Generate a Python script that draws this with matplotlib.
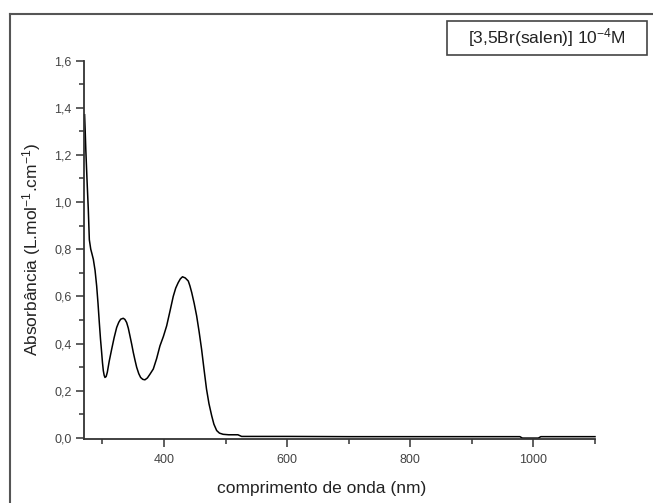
import numpy as np
import matplotlib
matplotlib.use("Agg")
import matplotlib.pyplot as plt
from matplotlib.lines import Line2D
from matplotlib.patches import Rectangle
from matplotlib.ticker import MultipleLocator

plt.rcParams['font.family'] = ['Liberation Sans', 'DejaVu Sans']
plt.rcParams['mathtext.fontset'] = 'custom'
plt.rcParams['mathtext.rm'] = 'Liberation Sans'
plt.rcParams['mathtext.it'] = 'Liberation Sans'

# UV-Vis spectrum of [3,5Br(salen)] 1e-4 M
wavelength = [271, 272, 273, 275, 277, 278.7, 281, 283, 285.2, 288, 290.6, 292.8,
              294.9, 296.8, 298.7, 300, 301.4, 302.8, 304.1, 306, 307.9, 311,
              315, 319, 323.1, 326.5, 329.6, 333.8, 336.5, 339.3, 342, 344.7,
              347.5, 350.1, 352.8, 355.6, 359, 362, 365.5, 369, 373, 377.2,
              382.6, 388, 393.4, 399, 404.3, 409.5, 415, 419, 423, 426.5, 430,
              434.5, 439.4, 442, 445, 449, 453, 457, 461, 465, 469, 473, 477.4,
              481, 485.5, 490, 496, 505, 520, 526, 540, 600, 700, 800, 900,
              978, 982, 995, 1008, 1012, 1050, 1100]
absorbance = [1.37, 1.30, 1.22, 1.09, 0.97, 0.84, 0.80, 0.78, 0.757, 0.71, 0.644, 0.57,
              0.489, 0.42, 0.362, 0.32, 0.285, 0.265, 0.256, 0.26, 0.278, 0.325,
              0.376, 0.425, 0.468, 0.49, 0.503, 0.507, 0.502, 0.489, 0.465, 0.432,
              0.397, 0.362, 0.33, 0.299, 0.272, 0.256, 0.248, 0.246, 0.254, 0.27,
              0.292, 0.336, 0.39, 0.43, 0.475, 0.535, 0.60, 0.635, 0.658, 0.674, 0.683,
              0.678, 0.665, 0.645, 0.616, 0.57, 0.517, 0.45, 0.376, 0.29, 0.207, 0.145, 0.094,
              0.058, 0.031, 0.020, 0.015, 0.013, 0.013, 0.006, 0.006, 0.006, 0.005, 0.005, 0.005,
              0.005, -0.001, -0.001, -0.001, 0.005, 0.005, 0.005]

yticks = [0.0, 0.2, 0.4, 0.6, 0.8, 1.0, 1.2, 1.4, 1.6]
ytick_labels = ["0,0", "0,2", "0,4", "0,6", "0,8", "1,0", "1,2", "1,4", "1,6"]
xticks = [400, 600, 800, 1000]
xtick_labels = ["400", "600", "800", "1000"]

fig = plt.figure(figsize=(6.53, 5.03), dpi=100)
ax = fig.add_axes([0.1286, 0.1272, 0.7826, 0.7525])

ax.plot(wavelength, absorbance, color='black', lw=1.1, clip_on=False)

ax.set_xlim(270, 1100)
ax.set_ylim(-0.005, 1.6)

ax.set_xticks(xticks)
ax.set_xticklabels(xtick_labels)
ax.set_yticks(yticks)
ax.set_yticklabels(ytick_labels)
ax.xaxis.set_minor_locator(MultipleLocator(100))
ax.yaxis.set_minor_locator(MultipleLocator(0.1))

for side in ('top', 'right'):
    ax.spines[side].set_visible(False)
for side in ('left', 'bottom'):
    ax.spines[side].set_color('#333333')
    ax.spines[side].set_linewidth(1.3)

ax.tick_params(which='major', direction='out', length=6, width=1.1,
               color='#333333', labelsize=9, labelcolor='#444444')
ax.tick_params(axis='x', which='major', pad=5)
ax.tick_params(axis='y', which='major', pad=3)
ax.tick_params(which='minor', direction='out', length=3.5, width=1.1,
               color='#333333')

ax.set_xlabel("comprimento de onda (nm)", fontsize=12.5, color='#222222')
ax.xaxis.set_label_coords(0.465, -0.112)
ax.set_ylabel(r"Absorbância (L.mol$^{\mathregular{-1}}$.cm$^{\mathregular{-1}}$)",
              fontsize=12.5, color='#222222', labelpad=8)

# sample label box in the upper right corner
fig.add_artist(Rectangle((0.6845, 0.8907), 0.3063, 0.0676, transform=fig.transFigure,
                         facecolor='white', edgecolor='#444444', linewidth=1.2))
fig.text(0.8377, 0.9245, r"[3,5Br(salen)] 10$^{\mathregular{-4}}$M", fontsize=12.5,
         color='#222222', ha='center', va='center')

# outer frame (top and left edges)
fig.add_artist(Line2D([0.0153, 1.0], [0.972, 0.972], color='#555555', lw=1.5))
fig.add_artist(Line2D([0.0153, 0.0153], [0.0, 0.972], color='#555555', lw=1.5))

fig.savefig("out.png", dpi=100)
